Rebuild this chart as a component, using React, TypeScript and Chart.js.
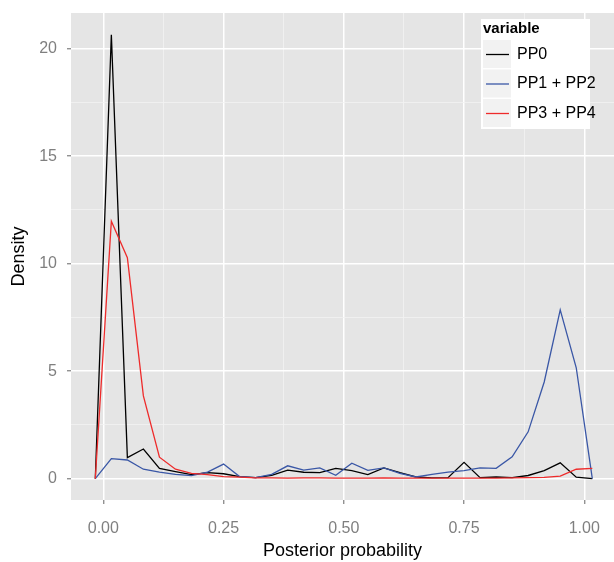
import React, { useEffect, useRef } from "react";
import { Chart, registerables } from "chart.js";

Chart.register(...registerables);

// Bin centres (posterior probability)
const binCenters = [
  -0.0167, 0.0167, 0.05, 0.0833, 0.1167, 0.15, 0.1833, 0.2167, 0.25, 0.2833,
  0.3167, 0.35, 0.3833, 0.4167, 0.45, 0.4833, 0.5167, 0.55, 0.5833, 0.6167,
  0.65, 0.6833, 0.7167, 0.75, 0.7833, 0.8167, 0.85, 0.8833, 0.9167, 0.95,
  0.9833, 1.0167,
];

const pp0 = [
  0, 20.65, 0.98, 1.38, 0.48, 0.33, 0.19, 0.28, 0.23, 0.1, 0.05, 0.15, 0.4,
  0.3, 0.28, 0.48, 0.38, 0.19, 0.5, 0.28, 0.08, 0.04, 0.05, 0.76, 0.05, 0.08,
  0.05, 0.15, 0.38, 0.74, 0.07, 0,
];

const pp12 = [
  0, 0.93, 0.87, 0.44, 0.31, 0.2, 0.14, 0.31, 0.68, 0.1, 0.05, 0.2, 0.6, 0.4,
  0.5, 0.16, 0.72, 0.39, 0.5, 0.25, 0.08, 0.2, 0.31, 0.38, 0.5, 0.48, 1.02,
  2.18, 4.5, 7.85, 5.16, 0,
];

const pp34 = [
  0, 11.98, 10.28, 3.85, 1.0, 0.44, 0.25, 0.19, 0.1, 0.07, 0.04, 0.04, 0.03,
  0.04, 0.04, 0.03, 0.03, 0.03, 0.04, 0.03, 0.03, 0.03, 0.03, 0.03, 0.03,
  0.03, 0.04, 0.05, 0.06, 0.12, 0.44, 0.48,
];

const seriesLabels = ["PP0", "PP1 + PP2", "PP3 + PP4"];
const seriesColors = ["#000000", "#3a57a6", "#ee2b2b"];

const xMajorTicks = [0, 0.25, 0.5, 0.75, 1.0];
const xMinorTicks = [0.125, 0.375, 0.625, 0.875];
const yMajorTicks = [0, 5, 10, 15, 20];
const yMinorTicks = [2.5, 7.5, 12.5, 17.5];

const FONT = "'Liberation Sans', Arial, Helvetica, sans-serif";

export default function App() {
  const canvasRef = useRef<HTMLCanvasElement | null>(null);

  useEffect(() => {
    const canvas = canvasRef.current;
    if (!canvas) return;

    const toPoints = (ys: number[]) =>
      ys.map((y, i) => ({ x: binCenters[i], y }));

    const panelPlugin = {
      id: "panelBg",
      beforeDraw(chart: any) {
        const { ctx, chartArea } = chart;
        ctx.save();
        ctx.fillStyle = "#e5e5e5";
        ctx.fillRect(
          chartArea.left,
          chartArea.top,
          chartArea.right - chartArea.left,
          chartArea.bottom - chartArea.top
        );
        ctx.restore();
      },
    };

    const legendPlugin = {
      id: "ggLegend",
      afterDatasetsDraw(chart: any) {
        const { ctx } = chart;
        const bx = 481;
        const by = 19;
        ctx.save();
        ctx.fillStyle = "#ffffff";
        ctx.fillRect(bx, by, 109, 110);
        ctx.fillStyle = "#000000";
        ctx.font = `bold 15px ${FONT}`;
        ctx.textBaseline = "alphabetic";
        ctx.textAlign = "left";
        ctx.fillText("variable", 483, 33);
        const dsList = chart.data.datasets;
        for (let i = 0; i < dsList.length; i++) {
          const top = 40 + 29.5 * i;
          ctx.fillStyle = "#f2f2f2";
          ctx.fillRect(483, top, 28, 28);
          const cy = top + 14.5;
          ctx.strokeStyle = dsList[i].borderColor;
          ctx.lineWidth = 1.3;
          ctx.beginPath();
          ctx.moveTo(486, cy);
          ctx.lineTo(509, cy);
          ctx.stroke();
          ctx.fillStyle = "#000000";
          ctx.font = `16px ${FONT}`;
          ctx.textBaseline = "middle";
          ctx.fillText(dsList[i].label, 517, cy);
        }
        ctx.restore();
      },
    };

    const isMajor = (list: number[], v: number) =>
      list.some((m) => Math.abs(m - v) < 1e-9);

    const chart = new Chart(canvas, {
      type: "line",
      data: {
        datasets: [pp0, pp12, pp34].map((d, i) => ({
          label: seriesLabels[i],
          data: toPoints(d),
          borderColor: seriesColors[i],
          backgroundColor: seriesColors[i],
          borderWidth: 1.3,
          pointRadius: 0,
          tension: 0,
          fill: false,
          order: 3 - i,
        })),
      },
      options: {
        animation: false,
        responsive: false,
        maintainAspectRatio: false,
        events: [],
        layout: { padding: { top: 13, left: 0, right: 0, bottom: 0 } },
        plugins: {
          legend: { display: false },
          tooltip: { enabled: false },
          title: { display: false },
        },
        scales: {
          x: {
            type: "linear",
            min: -0.0672,
            max: 1.0618,
            afterBuildTicks: (axis: any) => {
              axis.ticks = [...xMajorTicks, ...xMinorTicks]
                .sort((a, b) => a - b)
                .map((v) => ({ value: v }));
            },
            afterFit: (axis: any) => {
              axis.height = 62;
              axis.paddingLeft = 0;
              axis.paddingRight = 0;
              axis.paddingTop = 0;
              axis.paddingBottom = 0;
            },
            border: { display: false },
            grid: {
              drawTicks: true,
              tickLength: 4,
              color: (c: any) =>
                isMajor(xMajorTicks, c.tick.value) ? "#ffffff" : "#f2f2f2",
              lineWidth: (c: any) =>
                isMajor(xMajorTicks, c.tick.value) ? 1.5 : 0.8,
              tickColor: (c: any) =>
                isMajor(xMajorTicks, c.tick.value) ? "#7f7f7f" : "rgba(0,0,0,0)",
              tickWidth: 1.2,
            },
            ticks: {
              autoSkip: false,
              maxRotation: 0,
              padding: 15,
              color: "#7f7f7f",
              font: { family: FONT, size: 16 },
              callback: (v: any) =>
                isMajor(xMajorTicks, Number(v)) ? Number(v).toFixed(2) : "",
            },
            title: {
              display: true,
              text: "Posterior probability",
              color: "#000000",
              font: { family: FONT, size: 18 },
              padding: { top: 0, bottom: 0 },
            },
          },
          y: {
            type: "linear",
            min: -0.99,
            max: 21.66,
            afterBuildTicks: (axis: any) => {
              axis.ticks = [...yMajorTicks, ...yMinorTicks]
                .sort((a, b) => a - b)
                .map((v) => ({ value: v }));
            },
            afterFit: (axis: any) => {
              axis.width = 71;
              axis.paddingTop = 0;
              axis.paddingBottom = 0;
              axis.paddingLeft = 0;
              axis.paddingRight = 0;
            },
            border: { display: false },
            grid: {
              drawTicks: true,
              tickLength: 4,
              color: (c: any) =>
                isMajor(yMajorTicks, c.tick.value) ? "#ffffff" : "#f2f2f2",
              lineWidth: (c: any) =>
                isMajor(yMajorTicks, c.tick.value) ? 1.5 : 0.8,
              tickColor: (c: any) =>
                isMajor(yMajorTicks, c.tick.value) ? "#7f7f7f" : "rgba(0,0,0,0)",
              tickWidth: 1.2,
            },
            ticks: {
              autoSkip: false,
              padding: 10,
              color: "#7f7f7f",
              font: { family: FONT, size: 16 },
              callback: (v: any) =>
                isMajor(yMajorTicks, Number(v)) ? String(v) : "",
            },
            title: {
              display: true,
              text: "Density",
              color: "#000000",
              font: { family: FONT, size: 18 },
              padding: { top: 8, bottom: 0 },
            },
          },
        },
      },
      plugins: [panelPlugin, legendPlugin],
    } as any);

    return () => {
      chart.destroy();
    };
  }, []);

  return (
    <div
      style={{
        position: "fixed",
        left: 0,
        top: 0,
        width: 614,
        height: 562,
        background: "#ffffff",
      }}
    >
      <canvas ref={canvasRef} width={614} height={562} />
    </div>
  );
}
